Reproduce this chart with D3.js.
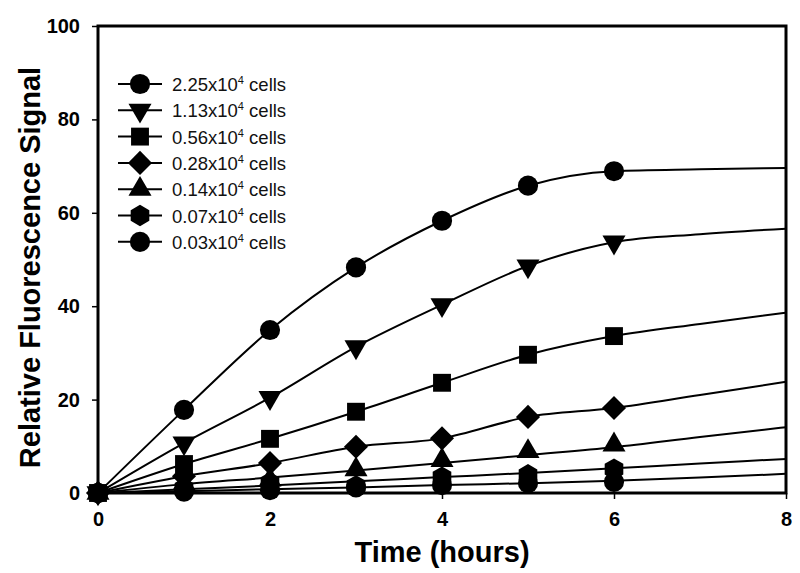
<!DOCTYPE html>
<html>
<head>
	<meta charset="utf-8">
	<title>Relative Fluorescence Signal</title>
	<script src="https://cdn.jsdelivr.net/npm/d3@7/dist/d3.min.js"></script>
	<style>
		body { margin: 0; background: #fff; }
		svg { font-family: "Liberation Sans", Arial, sans-serif; }
		.tick text { font-size: 20px; font-weight: bold; fill: #000; }
		.axis-title { font-size: 29px; font-weight: bold; }
		.legend text { font-size: 18.5px; fill: #111; }
	</style>
</head>
<body>
	<svg id="chart" width="800" height="573"></svg>
	<script>
		// measured points (hours 0..6)
		var times = [0, 1, 2, 3, 4, 5, 6];
		var s225 = [0, 17.8, 34.9, 48.3, 58.3, 65.8, 68.9];
		var s113 = [0, 10.7, 20.4, 31.3, 40.3, 48.6, 53.7];
		var s056 = [0, 6.2, 11.6, 17.4, 23.6, 29.6, 33.6];
		var s028 = [0, 3.6, 6.4, 9.9, 11.7, 16.3, 18.2];
		var s014 = [0, 2.0, 2.8, 5.0, 7.0, 8.9, 10.3];
		var s007 = [0, 1.0, 2.2, 1.5, 3.4, 3.9, 5.1];
		var s003 = [0, 0.3, 0.6, 1.2, 1.7, 2.1, 2.4];

		// fitted curves (hours 0..8)
		var fitTimes = [0, 1, 2, 3, 4, 5, 6, 7, 8];
		var f225 = [0, 17.8, 34.9, 48.3, 58.3, 65.8, 68.9, 69.3, 69.6];
		var f113 = [0, 10.7, 20.4, 31.3, 40.3, 48.6, 53.7, 55.4, 56.6];
		var f056 = [0, 6.2, 11.6, 17.4, 23.6, 29.6, 33.6, 36.2, 38.6];
		var f028 = [0, 3.6, 6.4, 9.9, 11.7, 16.3, 18.2, 21.0, 23.8];
		var f014 = [0, 1.9, 3.3, 4.8, 6.4, 8.1, 9.8, 12.0, 14.1];
		var f007 = [0, 0.8, 1.6, 2.5, 3.4, 4.3, 5.3, 6.3, 7.3];
		var f003 = [0, 0.4, 0.8, 1.2, 1.7, 2.1, 2.6, 3.3, 4.1];

		var labels = ['2.25', '1.13', '0.56', '0.28', '0.14', '0.07', '0.03'];
		var xTicks = [0, 2, 4, 6, 8];
		var yTicks = [0, 20, 40, 60, 80, 100];

		var hexagon = {
			draw: function (ctx, size) {
				var r = Math.sqrt(size / (1.5 * Math.sqrt(3)));
				for (var i = 0; i < 6; i++) {
					var a = Math.PI / 2 + i * Math.PI / 3;
					var px = r * Math.cos(a), py = r * Math.sin(a);
					if (i === 0) ctx.moveTo(px, py); else ctx.lineTo(px, py);
				}
				ctx.closePath();
			}
		};

		var series = [
			{ pts: s225, fit: f225, sym: d3.symbolCircle, size: 320, rot: 0 },
			{ pts: s113, fit: f113, sym: d3.symbolTriangle, size: 230, rot: 180 },
			{ pts: s056, fit: f056, sym: d3.symbolSquare, size: 320, rot: 0 },
			{ pts: s028, fit: f028, sym: d3.symbolSquare, size: 290, rot: 45 },
			{ pts: s014, fit: f014, sym: d3.symbolTriangle, size: 230, rot: 0 },
			{ pts: s007, fit: f007, sym: hexagon, size: 300, rot: 0 },
			{ pts: s003, fit: f003, sym: d3.symbolCircle, size: 320, rot: 0 }
		];

		var svg = d3.select('#chart'),
			margin = { top: 26, right: 14, bottom: 80, left: 98 },
			width = +svg.attr('width') - margin.left - margin.right,
			height = +svg.attr('height') - margin.top - margin.bottom;

		var g = svg.append('g')
			.attr('transform', 'translate(' + margin.left + ',' + margin.top + ')');

		var x = d3.scaleLinear().domain([0, 8]).range([0, width]);
		var y = d3.scaleLinear().domain([0, 100]).range([height, 0]);

		// axes
		var xAxis = g.append('g')
			.attr('transform', 'translate(0,' + height + ')')
			.call(d3.axisBottom(x).tickValues(xTicks).tickSize(6).tickPadding(13));
		var yAxis = g.append('g')
			.call(d3.axisLeft(y).tickValues(yTicks).tickSize(6).tickPadding(12));
		[xAxis, yAxis].forEach(function (a) {
			a.select('.domain').remove();
			a.selectAll('.tick line').attr('stroke', '#000').attr('stroke-width', 1.5);
		});

		// lines
		var line = d3.line()
			.x(function (d) { return x(d[0]); })
			.y(function (d) { return y(d[1]); })
			.curve(d3.curveMonotoneX);

		g.append('g').selectAll('path')
			.data(series)
			.enter()
			.append('path')
			.attr('fill', 'none')
			.attr('stroke', '#000')
			.attr('stroke-width', 2)
			.attr('d', function (s) { return line(d3.zip(fitTimes, s.fit)); });

		// markers, smallest series last so they sit on top like the original
		series.forEach(function (s) {
			g.append('g').selectAll('path')
				.data(d3.zip(times, s.pts))
				.enter()
				.append('path')
				.attr('fill', '#000')
				.attr('d', d3.symbol().type(s.sym).size(s.size))
				.attr('transform', function (d) {
					return 'translate(' + x(d[0]) + ',' + y(d[1]) + ') rotate(' + s.rot + ')';
				});
		});

		// frame
		g.append('rect')
			.attr('width', width)
			.attr('height', height)
			.attr('fill', 'none')
			.attr('stroke', '#000')
			.attr('stroke-width', 3);

		// legend
		var legend = g.append('g')
			.attr('class', 'legend')
			.attr('transform', 'translate(20,58)');

		var row = legend.selectAll('g')
			.data(series)
			.enter()
			.append('g')
			.attr('transform', function (d, i) { return 'translate(0,' + (i * 26.3) + ')'; });

		row.append('line')
			.attr('x1', 0).attr('x2', 44)
			.attr('stroke', '#000').attr('stroke-width', 2);
		row.append('path')
			.attr('fill', '#000')
			.attr('d', function (s) { return d3.symbol().type(s.sym).size(s.size)(); })
			.attr('transform', function (s) { return 'translate(22,0) rotate(' + s.rot + ')'; });

		var txt = row.append('text')
			.attr('x', 54)
			.attr('y', 7);
		txt.append('tspan').text(function (d, i) { return labels[i] + 'x10'; });
		txt.append('tspan').attr('dy', -7).attr('font-size', '11px').text('4');
		txt.append('tspan').attr('dy', 7).text(' cells');

		// titles
		svg.append('text')
			.attr('class', 'axis-title')
			.attr('x', margin.left + width / 2)
			.attr('y', 562)
			.attr('text-anchor', 'middle')
			.text('Time (hours)');

		svg.append('text')
			.attr('class', 'axis-title')
			.attr('transform', 'translate(40,' + (margin.top + height / 2 + 8) + ') rotate(-90)')
			.attr('text-anchor', 'middle')
			.text('Relative Fluorescence Signal');
	</script>
</body>
</html>
